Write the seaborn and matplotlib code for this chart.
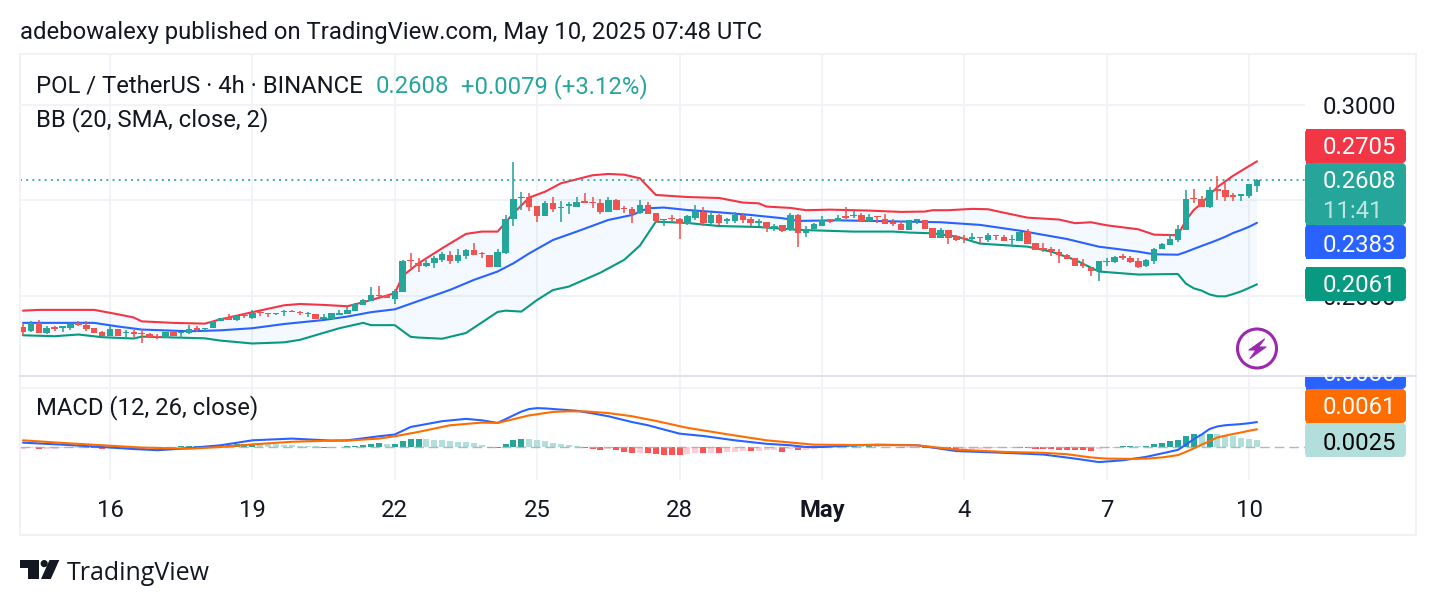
import numpy as np
import pandas as pd
import matplotlib
matplotlib.use("Agg")
import matplotlib.pyplot as plt
from matplotlib.patches import Rectangle, FancyBboxPatch, Circle, Polygon
import seaborn as sns

# ---- data: POL / USDT, 4h bars -------------------------------------------
opens = [
    .1836,.1815,.1857,.1806,.1836,.1834,.1832,.1857,.1846,.1831,
    .1810,.1792,.1825,.1805,.1810,.1805,.1799,.1790,.1782,.1811,
    .1805,.1805,.1831,.1829,.1831,.1869,.1888,.1873,.1899,.1883,
    .1916,.1909,.1904,.1915,.1920,.1915,.1904,.1904,.1880,.1880,
    .1902,.1907,.1922,.1955,.1976,.2007,.2005,.1986,.2023,.2189,
    .2174,.2159,.2173,.2189,.2215,.2183,.2211,.2241,.2225,.2215,
    .2154,.2223,.2401,.2515,.2520,.2471,.2421,.2485,.2459,.2473,
    .2468,.2496,.2494,.2485,.2442,.2503,.2461,.2454,.2433,.2475,
    .2433,.2400,.2410,.2403,.2377,.2410,.2442,.2382,.2424,.2394,
    .2394,.2426,.2405,.2384,.2387,.2356,.2370,.2346,.2424,.2328,
    .2353,.2367,.2401,.2393,.2417,.2417,.2424,.2393,.2417,.2401,
    .2388,.2377,.2347,.2393,.2398,.2354,.2306,.2344,.2314,.2306,
    .2300,.2307,.2293,.2321,.2311,.2293,.2290,.2337,.2276,.2250,
    .2244,.2232,.2215,.2197,.2166,.2150,.2133,.2176,.2176,.2209,
    .2201,.2183,.2157,.2185,.2248,.2267,.2293,.2346,.2511,.2506,
    .2464,.2559,.2553,.2527,.2525,.2525,.2576]
highs = [
    .1854,.1867,.1873,.1840,.1843,.1840,.1857,.1867,.1867,.1831,
    .1819,.1843,.1825,.1820,.1822,.1825,.1808,.1799,.1813,.1811,
    .1811,.1846,.1843,.1834,.1871,.1887,.1906,.1901,.1909,.1927,
    .1923,.1909,.1909,.1927,.1927,.1920,.1916,.1904,.1906,.1909,
    .1927,.1941,.1965,.1986,.2047,.2052,.2005,.2035,.2189,.2223,
    .2197,.2189,.2209,.2229,.2234,.2246,.2244,.2276,.2232,.2215,
    .2246,.2424,.2701,.2543,.2538,.2471,.2496,.2518,.2497,.2490,
    .2520,.2539,.2517,.2506,.2517,.2506,.2471,.2468,.2503,.2490,
    .2433,.2405,.2422,.2407,.2422,.2476,.2464,.2442,.2429,.2408,
    .2438,.2433,.2412,.2403,.2389,.2375,.2374,.2433,.2429,.2367,
    .2382,.2417,.2401,.2426,.2464,.2443,.2433,.2428,.2417,.2428,
    .2401,.2391,.2398,.2401,.2398,.2354,.2354,.2344,.2319,.2319,
    .2328,.2307,.2328,.2321,.2319,.2318,.2337,.2349,.2276,.2276,
    .2255,.2246,.2218,.2197,.2192,.2150,.2182,.2197,.2209,.2220,
    .2208,.2197,.2192,.2253,.2279,.2325,.2372,.2555,.2560,.2524,
    .2569,.2628,.2593,.2541,.2532,.2585,.2611]
lows = [
    .1796,.1811,.1806,.1801,.1818,.1811,.1822,.1840,.1817,.1808,
    .1792,.1792,.1792,.1783,.1787,.1756,.1783,.1775,.1778,.1792,
    .1778,.1801,.1813,.1817,.1831,.1869,.1873,.1871,.1883,.1881,
    .1895,.1892,.1899,.1897,.1915,.1902,.1892,.1878,.1878,.1880,
    .1902,.1907,.1922,.1955,.1976,.1982,.1988,.1960,.2023,.2148,
    .2126,.2150,.2148,.2180,.2168,.2175,.2195,.2215,.2201,.2154,
    .2154,.2220,.2366,.2450,.2445,.2387,.2421,.2442,.2387,.2431,
    .2468,.2485,.2463,.2431,.2442,.2452,.2436,.2381,.2429,.2431,
    .2381,.2366,.2389,.2298,.2373,.2400,.2366,.2373,.2373,.2377,
    .2384,.2382,.2367,.2367,.2335,.2340,.2337,.2340,.2258,.2311,
    .2349,.2367,.2384,.2393,.2405,.2410,.2393,.2386,.2384,.2379,
    .2367,.2347,.2347,.2379,.2351,.2306,.2306,.2274,.2290,.2279,
    .2293,.2276,.2285,.2293,.2290,.2258,.2290,.2274,.2241,.2232,
    .2211,.2175,.2192,.2159,.2148,.2105,.2080,.2159,.2173,.2189,
    .2171,.2148,.2154,.2168,.2244,.2267,.2285,.2346,.2485,.2468,
    .2461,.2503,.2497,.2499,.2499,.2515,.2546]
closes = [
    .1813,.1860,.1806,.1831,.1827,.1840,.1853,.1850,.1825,.1808,
    .1792,.1825,.1792,.1811,.1803,.1799,.1783,.1783,.1811,.1792,
    .1811,.1825,.1824,.1834,.1871,.1887,.1873,.1895,.1894,.1911,
    .1913,.1904,.1909,.1920,.1915,.1909,.1909,.1878,.1888,.1909,
    .1909,.1927,.1958,.1979,.2004,.2002,.1988,.2025,.2183,.2183,
    .2155,.2171,.2197,.2218,.2183,.2213,.2241,.2215,.2218,.2154,
    .2232,.2401,.2508,.2520,.2468,.2421,.2489,.2456,.2464,.2480,
    .2494,.2489,.2485,.2440,.2503,.2452,.2454,.2431,.2476,.2431,
    .2394,.2405,.2403,.2381,.2419,.2443,.2381,.2424,.2384,.2401,
    .2426,.2398,.2381,.2391,.2358,.2367,.2340,.2424,.2328,.2353,
    .2379,.2400,.2389,.2410,.2410,.2424,.2393,.2412,.2412,.2379,
    .2377,.2347,.2398,.2401,.2351,.2306,.2346,.2306,.2293,.2297,
    .2307,.2302,.2318,.2316,.2290,.2298,.2337,.2274,.2241,.2241,
    .2236,.2215,.2192,.2159,.2155,.2131,.2182,.2185,.2204,.2201,
    .2176,.2154,.2189,.2244,.2271,.2297,.2351,.2506,.2506,.2468,
    .2555,.2550,.2520,.2520,.2532,.2585,.2608]

# Bollinger bands, sampled at the bars where the curves bend
upper_bars = [0,2,9,12,14,15,19,23,25,29,33,35,38,41,43,47,48,50,53,56,58,60,62,64,66,68,72,74,76,78,80,84,88,91,93,94,97,99,
              102,107,111,114,115,117,120,122,124,127,131,133,135,137,141,143,146,147,148,149,150,151,152,153,154,155,156]
upper_vals = [.1923,.1927,.1927,.1904,.1887,.1867,.1859,.1855,.1878,.1915,.1951,.1958,.1953,.1946,.1967,.2014,.2105,.2171,.2250,.2325,.2337,.2337,.2433,.2515,.2546,.2590,.2632,.2639,.2635,.2616,.2529,.2518,.2513,.2489,.2485,.2468,.2461,.2449,
              .2452,.2447,.2440,.2442,.2449,.2449,.2456,.2454,.2436,.2410,.2400,.2381,.2386,.2370,.2349,.2321,.2318,.2395,.2450,.2485,.2530,.2570,.2600,.2630,.2655,.2680,.2705]
mid_bars = [0,9,12,15,21,25,29,33,38,41,44,47,54,57,60,62,64,67,70,74,77,79,81,84,88,92,96,98,103,116,121,126,132,136,141,143,146,147,148,149,150,151,152,153,154,155,156]
mid_vals = [.1859,.1859,.1840,.1824,.1815,.1820,.1831,.1853,.1874,.1892,.1915,.1930,.2032,.2084,.2128,.2171,.2223,.2293,.2337,.2398,.2424,.2459,.2463,.2450,.2438,.2424,.2407,.2393,.2396,.2386,.2372,.2342,.2298,.2258,.2232,.2218,.2216,.2230,.2246,.2262,.2277,.2293,.2310,.2330,.2345,.2362,.2383]
lower_bars = [0,4,7,10,14,15,23,25,29,33,35,40,43,44,47,49,50,53,56,60,61,63,65,67,69,73,76,78,80,84,88,93,98,105,110,112,115,118,121,127,130,133,136,141,146,147,148,149,150,151,152,153,154,155,156]
lower_vals = [.1794,.1789,.1798,.1784,.1777,.1787,.1778,.1766,.1751,.1757,.1770,.1831,.1859,.1847,.1847,.1786,.1782,.1776,.1806,.1916,.1923,.1918,.1979,.2031,.2049,.2122,.2189,.2264,.2389,.2382,.2366,.2361,.2346,.2337,.2337,.2332,.2328,.2311,.2274,.2258,.2232,.2189,.2128,.2112,.2115,.2065,.2040,.2028,.2008,.1998,.1998,.2010,.2024,.2042,.2061]

# MACD (12, 26, close)
macd_bars = [0,5,10,14,17,20,25,29,34,39,41,45,47,49,53,56,58,60,62,63,64,65,66,68,70,72,74,77,79,83,86,90,94,97,99,101,105,108,113,118,125,129,133,136,139,142,144,146,147,148,149,150,151,152,153,154,155,156]
macd_vals = [.0015,.0008,.0000,-.0007,-.0011,-.0006,.0006,.0023,.0029,.0022,.0023,.0037,.0043,.0069,.0089,.0097,.0092,.0083,.0109,.0122,.0131,.0134,.0133,.0129,.0125,.0116,.0106,.0086,.0075,.0046,.0038,.0023,.0011,.0006,.0000,.0000,.0006,.0008,.0006,-.0014,-.0021,-.0026,-.0040,-.0052,-.0046,-.0034,-.0022,-.0010,.0008,.0027,.0043,.0062,.0071,.0075,.0077,.0079,.0082,.0086]
signal_bars = [0,5,10,15,21,25,29,34,39,41,45,47,50,54,58,60,64,67,69,71,74,77,80,84,89,94,100,105,113,118,124,129,132,135,137,140,142,144,146,147,148,149,150,151,152,153,154,155,156]
signal_vals = [.0023,.0014,.0006,-.0002,-.0006,.0000,.0009,.0018,.0022,.0022,.0029,.0037,.0052,.0075,.0084,.0083,.0109,.0121,.0123,.0123,.0117,.0106,.0090,.0066,.0044,.0023,.0008,.0007,.0006,-.0009,-.0017,-.0020,-.0025,-.0036,-.0040,-.0041,-.0040,-.0036,-.0028,-.0017,-.0005,.0008,.0020,.0033,.0039,.0045,.0050,.0056,.0061]
hist_vals = [
    -.0006,-.0005,-.0008,-.0007,-.0006,-.0005,-.0004,-.0003,-.0004,-.0005,
    -.0007,-.0005,-.0004,-.0002,-.0004,-.0006,-.0005,-.0004,-.0003,-.0001,
    .0002,.0003,.0004,.0005,.0006,.0007,.0008,.0009,.0010,.0012,
    .0011,.0010,.0009,.0008,.0007,.0005,.0003,.0002,-.0003,-.0002,
    -.0001,.0003,.0004,.0008,.0012,.0013,.0011,.0012,.0021,.0028,
    .0029,.0026,.0025,.0024,.0021,.0018,.0016,.0013,.0006,-.0002,
    -.0003,.0012,.0025,.0029,.0028,.0023,.0022,.0015,.0012,.0008,
    .0004,-.0005,-.0006,-.0009,-.0008,-.0012,-.0016,-.0021,-.0019,-.0022,
    -.0023,-.0026,-.0027,-.0028,-.0025,-.0021,-.0022,-.0020,-.0021,-.0017,
    -.0016,-.0014,-.0015,-.0013,-.0012,-.0011,-.0016,-.0007,-.0012,-.0010,
    -.0006,-.0003,-.0001,.0001,.0002,.0003,.0002,.0004,.0003,.0001,
    -.0001,-.0003,-.0002,-.0001,-.0002,-.0003,-.0005,-.0008,-.0011,-.0010,
    -.0008,-.0007,-.0006,-.0005,-.0004,-.0003,-.0004,-.0005,-.0006,-.0007,
    -.0008,-.0009,-.0010,-.0011,-.0012,-.0014,-.0006,-.0004,-.0002,.0002,
    .0003,.0002,.0004,.0012,.0015,.0022,.0025,.0038,.0046,.0044,
    .0046,.0045,.0041,.0037,.0032,.0029,.0025]

date_ticks = [11, 29, 47, 65, 83, 101, 119, 137, 155]
date_labels = ["16", "19", "22", "25", "28", "May", "4", "7", "10"]
price_ticks = [0.20, 0.25, 0.30]
last_price = 0.2608

# ---- theme ----------------------------------------------------------------
sns.set_theme(style="white")
plt.rcParams["font.family"] = ["Roboto", "DejaVu Sans"]
TEXT = "#131722"
GRID = "#f1f3f6"
UP, DOWN = "#26a69a", "#ef5350"
W, H = 1436, 606
FS = 17.2
fig = plt.figure(figsize=(W / 100, H / 100), dpi=100, facecolor="white")


def pane(left, top, right, bottom):
    return fig.add_axes([left / W, 1 - bottom / H, (right - left) / W, (bottom - top) / H])


XLIM = (-0.38, 162.07)
LW = 1.5
ax = pane(20, 54, 1305, 375)
ax2 = pane(20, 376, 1305, 480)

# ---- price pane -----------------------------------------------------------
bars = np.arange(len(closes))
o, h, l, c = map(np.array, (opens, highs, lows, closes))
up = c >= o
colors = np.where(up, UP, DOWN)
band_x = np.r_[upper_bars, lower_bars[::-1]]
band_y = np.r_[upper_vals, lower_vals[::-1]]
ax.fill(band_x, band_y, color="#2196f3", alpha=0.05, lw=0, zorder=1)
sns.lineplot(x=upper_bars, y=upper_vals, ax=ax, color="#f23645", lw=LW, zorder=2, errorbar=None)
sns.lineplot(x=mid_bars, y=mid_vals, ax=ax, color="#2962ff", lw=LW, zorder=2, errorbar=None)
sns.lineplot(x=lower_bars, y=lower_vals, ax=ax, color="#089981", lw=LW, zorder=2, errorbar=None)
ax.vlines(bars, l, h, colors=colors, lw=1.15, zorder=3)
ax.bar(bars, np.abs(c - o), bottom=np.minimum(c, o), width=0.82, color=colors, lw=0, zorder=3)
ax.axhline(last_price, color=UP, lw=1.2, ls=(0, (1.2, 2.5)), zorder=2)
ax.set_ylim(0.1586, 0.3267)
ax.set_yticks(price_ticks, [f"{v:.4f}" for v in price_ticks])
ax.yaxis.tick_right()
ax.tick_params(axis="y", length=0, pad=13, labelsize=FS, labelcolor=TEXT)
ax.set_xticks(date_ticks, [])

# ---- MACD pane ------------------------------------------------------------
hist = np.array(hist_vals)
rising = np.r_[True, hist[1:] >= hist[:-1]]
kinds = np.where(hist >= 0, np.where(rising, "up_strong", "up_weak"),
                 np.where(rising, "down_weak", "down_strong"))
hist_df = pd.DataFrame({"bar": bars, "hist": hist, "kind": kinds})
sns.barplot(data=hist_df, x="bar", y="hist", hue="kind", native_scale=True, dodge=False,
            width=0.76, legend=False, ax=ax2, zorder=2, errorbar=None, saturation=1,
            edgecolor="none", linewidth=0,
            palette={"up_strong": "#26a69a", "up_weak": "#b2dfdb",
                     "down_strong": "#ff5252", "down_weak": "#ffcdd2"})
ax2.axhline(0, color="#a9abb2", lw=1.0, ls=(0, (7, 3.5)), alpha=0.85, zorder=3)
sns.lineplot(x=macd_bars, y=macd_vals, ax=ax2, color="#2962ff", lw=LW, zorder=4, errorbar=None)
sns.lineplot(x=signal_bars, y=signal_vals, ax=ax2, color="#ff6d00", lw=LW, zorder=5, errorbar=None)
ax2.set_ylim(-0.01138, 0.02448)
ax2.set_yticks([0.0205], [""])
ax2.tick_params(axis="y", length=0)
ax2.set_xticks(date_ticks, date_labels)
ax2.tick_params(axis="x", length=0, pad=13.5, labelsize=FS, labelcolor=TEXT)
ax2.get_xticklabels()[5].set_fontweight("bold")

for a in (ax, ax2):
    a.set_xlim(*XLIM)
    a.set_xlabel("")
    a.set_ylabel("")
    a.grid(True, color=GRID, lw=1.4, zorder=0)
    a.set_axisbelow(True)
    for s in a.spines.values():
        s.set_visible(False)
    a.patch.set_alpha(0)

# ---- overlay drawn in pixel coordinates: frame, headers, scale tags, logos ---
ov = fig.add_axes([0, 0, 1, 1], zorder=10)
ov.set_xlim(0, W)
ov.set_ylim(H, 0)
ov.axis("off")
ov.patch.set_alpha(0)

ov.add_patch(Rectangle((20, 54), 1396, 481, fill=False, ec="#f1f2f5", lw=1.4))
ov.plot([20, 1416], [375.5, 375.5], color="#e0e3eb", lw=1.5)

ov.text(20, 39, "adebowalexy published on TradingView.com, May 10, 2025 07:48 UTC",
        color=TEXT, fontsize=FS, va="baseline")
ov.text(36, 93, "POL / TetherUS · 4h · BINANCE", color=TEXT, fontsize=FS, va="baseline")
ov.text(376, 93, "0.2608", color=UP, fontsize=FS, va="baseline")
ov.text(461, 93, "+0.0079 (+3.12%)", color=UP, fontsize=FS, va="baseline")
ov.text(36, 126.5, "BB (20, SMA, close, 2)", color=TEXT, fontsize=FS, va="baseline")
ov.text(36, 414.5, "MACD (12, 26, close)", color=TEXT, fontsize=FS, va="baseline")


def tag(top, bottom, face, clip=None, z=3):
    box = FancyBboxPatch((1306, top + 1), 99, bottom - top - 2,
                         boxstyle="round,pad=0,rounding_size=3", fc=face, ec=face, lw=1.4, zorder=z)
    ov.add_patch(box)
    left = Rectangle((1306, top), 10, bottom - top, fc=face, ec="none", zorder=z)
    ov.add_patch(left)
    if clip is not None:
        box.set_clip_path(clip)
        left.set_clip_path(clip)


def tag_text(y, s, color="white", z=4, alpha=1.0, clip=None):
    t = ov.text(1323, y, s, color=color, fontsize=FS, va="baseline", zorder=z, alpha=alpha)
    if clip is not None:
        t.set_clip_path(clip)
    return t


# macd value tag sits partly under the pane border
clip = Rectangle((1300, 376.5), 120, 40, transform=ov.transData)
tag(355, 389, "#2962ff", clip=clip)
tag_text(381, "0.0086", clip=clip)
tag(129, 163, "#f23645")
tag_text(154.5, "0.2705")
tag(163, 225, "#26a69a")
tag_text(188.5, "0.2608")
tag_text(217.5, "11:41", alpha=0.7)
tag(225, 259, "#2962ff")
tag_text(251.5, "0.2383")
tag(267, 301, "#089981")
tag_text(292.5, "0.2061")
tag(389, 423, "#ff6d00")
tag_text(414.5, "0.0061")
tag(423, 457, "#b2dfdb")
tag_text(449.5, "0.0025", color="#000000")

# purple lightning badge
ov.add_patch(Circle((1257, 348.5), 19.5, fill=False, ec="#9c27b0", lw=2.2))
ov.add_patch(Polygon([(1264.5, 339), (1249, 350), (1256, 350), (1250, 358.5), (1266, 347), (1258.5, 347)],
                     closed=True, fc="#9c27b0", ec="#9c27b0", lw=0.8, joinstyle="round"))

# TradingView wordmark
ov.add_patch(Polygon([(20, 560), (39.3, 560), (39.3, 579), (28, 579), (28, 567.5), (20, 567.5)],
                     closed=True, fc=TEXT, ec="none"))
ov.add_patch(Circle((44.2, 563.6), 3.6, fc=TEXT, ec="none"))
ov.add_patch(Polygon([(49.5, 560), (59.3, 560), (50.8, 579), (41, 579)], closed=True, fc=TEXT, ec="none"))
ov.text(66.5, 580.5, "TradingView", color=TEXT, fontsize=18, va="baseline", family=["Open Sans", "DejaVu Sans"])

fig.savefig("out.png", dpi=100, facecolor="white")
